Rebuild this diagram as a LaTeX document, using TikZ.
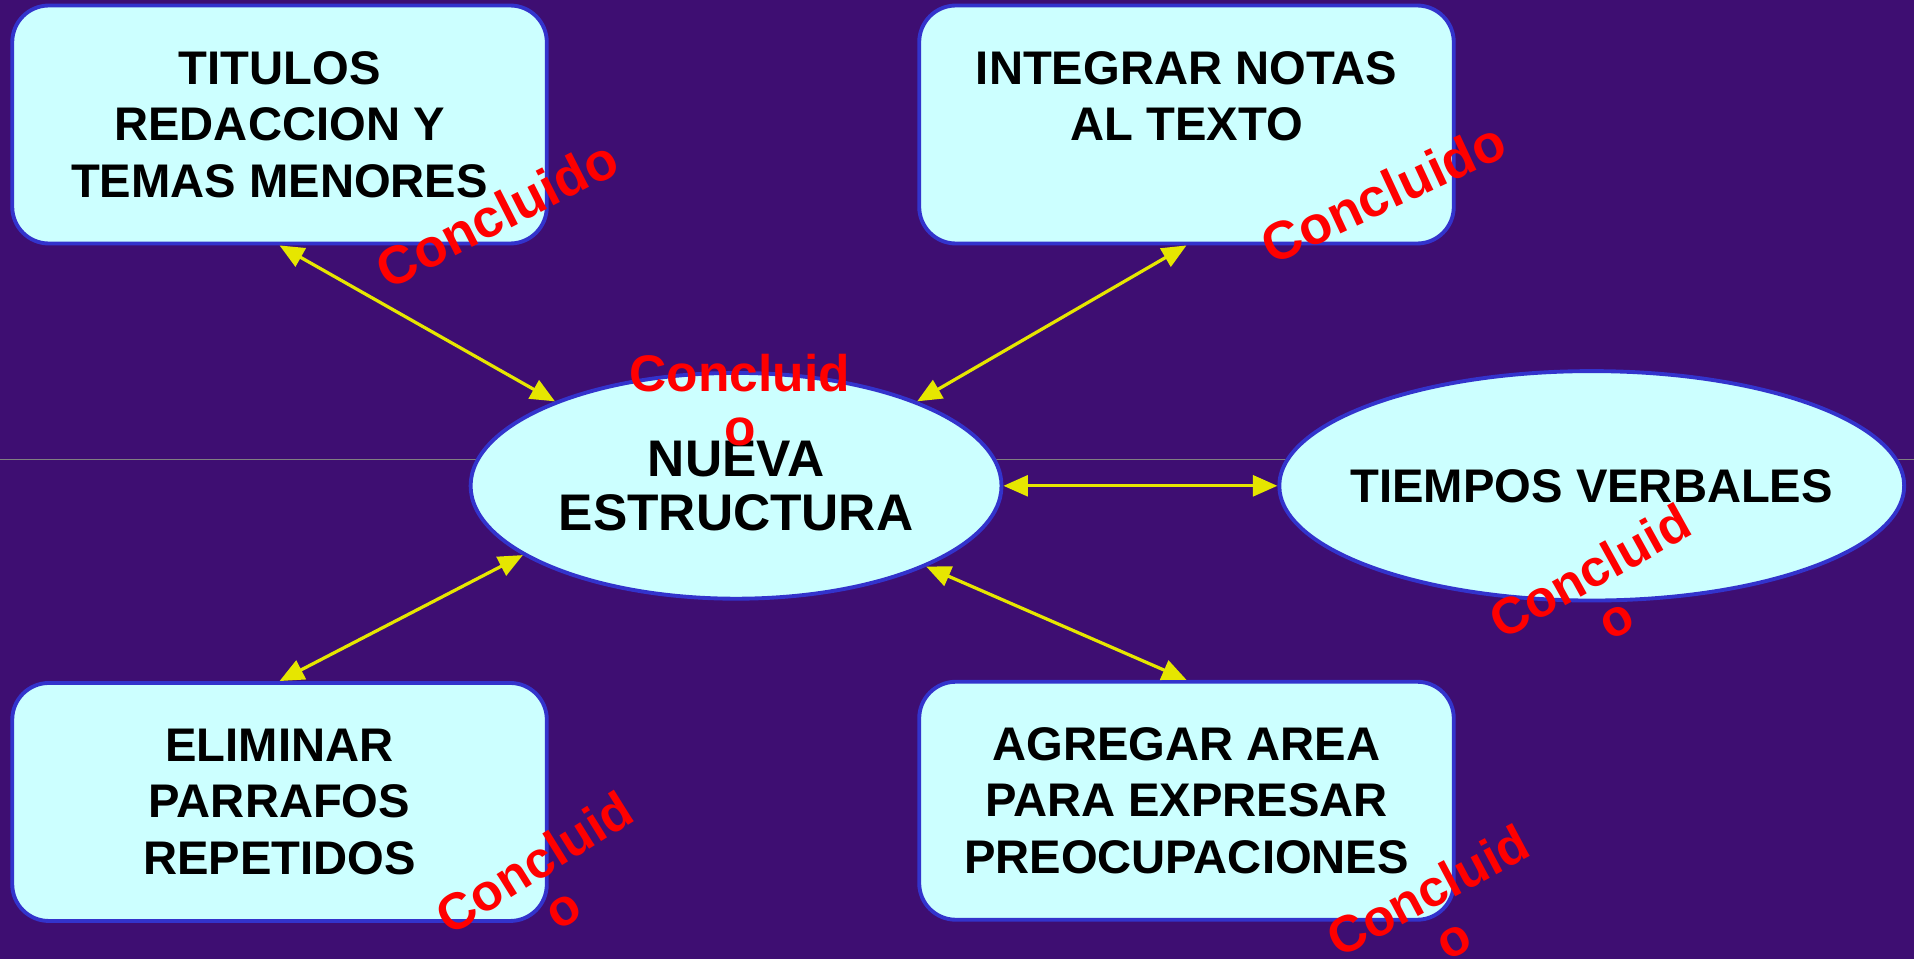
\documentclass[tikz,border=0pt]{standalone}
\usepackage{fontspec}
\setmainfont{Liberation Sans}
\usetikzlibrary{shapes.geometric,arrows.meta}
\definecolor{fondo}{RGB}{62,14,114}
\definecolor{celeste}{RGB}{204,255,255}
\definecolor{borde}{RGB}{51,51,204}
\definecolor{flecha}{RGB}{230,230,0}
\tikzset{
    caja/.style={draw=borde,line width=1.8pt,fill=celeste,rounded corners=0.6cm,minimum width=8.76cm,minimum height=3.9cm,inner sep=0pt,align=center,font=\fontsize{22}{26.4}\selectfont\bfseries},
    elipse/.style={ellipse,draw=borde,line width=1.8pt,fill=celeste,inner sep=0pt,align=center},
    flechas/.style={draw=flecha,line width=1.5pt,{Triangle[length=0.4cm,width=0.34cm]}-{Triangle[length=0.4cm,width=0.34cm]}},
    listo/.style={text=red,font=\fontsize{24}{25}\selectfont\bfseries,align=center,inner sep=0pt}
}
\begin{document}
\begin{tikzpicture}[x=0.02cm,y=-0.02cm]
                \useasboundingbox (0,0) rectangle (1568,786);
                \fill[fondo] (0,0) rectangle (1568,786);
                \draw[gray,line width=0.4pt] (0,376) -- (1568,376);
                \node[caja] (titulos) at (229,102) {TITULOS\\REDACCION Y\\TEMAS MENORES};
                \node[caja,text depth=26.4pt] (integrar) at (972,102) {INTEGRAR NOTAS\\AL TEXTO};
                \node[caja] (eliminar) at (229,657) {ELIMINAR\\PARRAFOS\\REPETIDOS};
                \node[caja] (agregar) at (972,656) {AGREGAR AREA\\PARA EXPRESAR\\PREOCUPACIONES};
                \node[elipse,minimum width=8.7cm,minimum height=3.7cm,font=\fontsize{24}{25}\selectfont\bfseries] (nueva) at (603,398) {NUEVA\\ESTRUCTURA};
                \node[elipse,inner xsep=-0.5cm,minimum width=10.24cm,minimum height=3.76cm,font=\fontsize{22}{26}\selectfont\bfseries] (tiempos) at (1304,398) {TIEMPOS VERBALES};
                \draw[flechas] (titulos.south) -- (nueva.155);
                \draw[flechas] (integrar.south) -- (nueva.25);
                \draw[flechas] (nueva.east) -- (tiempos.west);
                \draw[flechas] (eliminar.north) -- (nueva.198);
                \draw[flechas] (agregar.north) -- (nueva.-23);
                \node[listo,font=\fontsize{25}{25}\selectfont\bfseries,rotate=27] (hecho1) at (407,175) {Concluido};
                \node[listo,font=\fontsize{25}{25}\selectfont\bfseries,rotate=25] (hecho2) at (1133,158) {Concluido};
                \node[listo] (hecho3) at (606,328) {Concluid\\o};
                \node[listo,rotate=29] (hecho4) at (1313,487) {Concluid\\o};
                \node[listo,rotate=32] (hecho5) at (449,725) {Concluid\\o};
                \node[listo,rotate=28] (hecho6) at (1180,749) {Concluid\\o};
            \end{tikzpicture}
\end{document}
